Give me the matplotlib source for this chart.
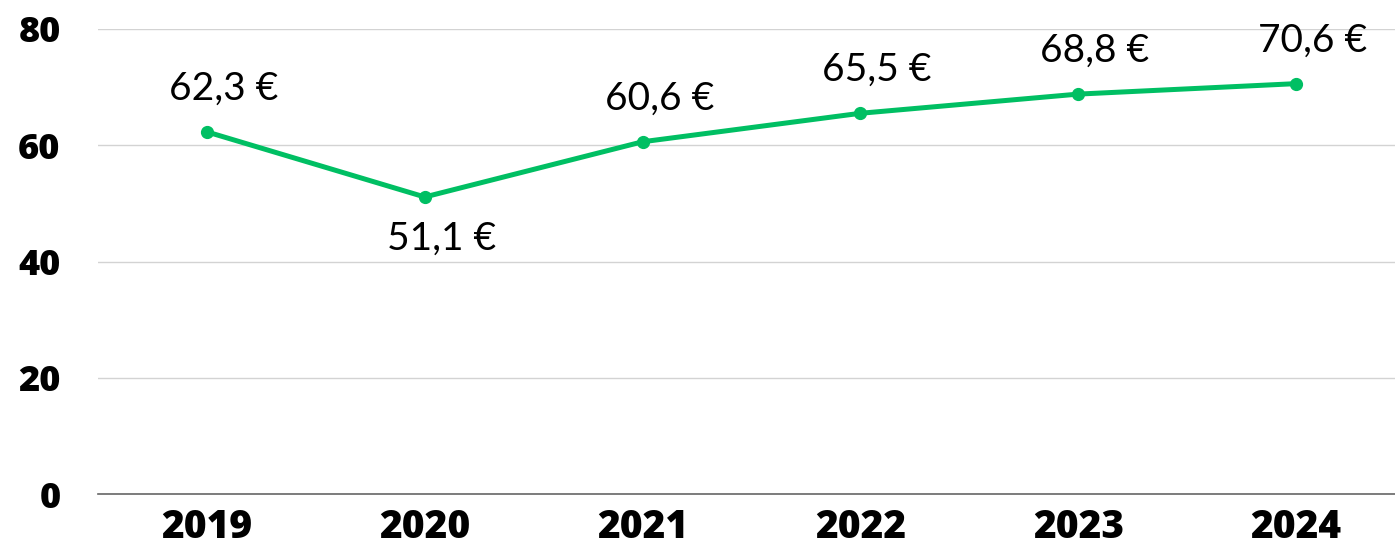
import matplotlib
matplotlib.use("Agg")
import matplotlib.pyplot as plt

years = ["2019", "2020", "2021", "2022", "2023", "2024"]
values = [62.3, 51.1, 60.6, 65.5, 68.8, 70.6]
labels = ["62,3 €", "51,1 €", "60,6 €", "65,5 €", "68,8 €", "70,6 €"]
yticks = [0, 20, 40, 60, 80]

W, H = 1395, 550
fig = plt.figure(figsize=(W / 100, H / 100), dpi=100)
ax = fig.add_axes([98 / W, 1 - 494 / H, (1405 - 98) / W, (494 - 29) / H])

x = list(range(len(years)))
ax.plot(x, values, color="#00BF63", lw=3.6, marker="o", ms=8.5, zorder=3,
        solid_capstyle="round", clip_on=False)

for i, (v, lab) in enumerate(zip(values, labels)):
    below = v < 55
    ax.annotate(lab, (i, v), xytext=(12, -30 if below else 31), textcoords="offset points",
                ha="center", va="center", fontsize=28, family=["Lato", "DejaVu Sans"],
                fontweight="normal", color="black", annotation_clip=False)

ax.set_xlim(-0.5, 5.5)
ax.set_ylim(0, 80)
ax.set_yticks(yticks)
ax.set_xticks(x)
ax.set_xticklabels(years)
ax.set_yticklabels([str(t) for t in yticks])
for lab in ax.get_xticklabels():
    lab.set_fontsize(28)
for lab in ax.get_yticklabels():
    lab.set_fontsize(26)
for lab in ax.get_xticklabels() + ax.get_yticklabels():
    lab.set_fontfamily(["Open Sans", "DejaVu Sans"])
    lab.set_fontweight(800)
    lab.set_color("black")
ax.tick_params(axis="x", length=0, pad=10)
ax.tick_params(axis="y", length=0, pad=27)
ax.grid(axis="y", color="#d3d3d3", lw=1)
ax.set_axisbelow(True)
for s in ["top", "right", "left"]:
    ax.spines[s].set_visible(False)
ax.spines["bottom"].set_color("#666666")
ax.spines["bottom"].set_linewidth(1.2)

fig.savefig("out.png", dpi=100)
